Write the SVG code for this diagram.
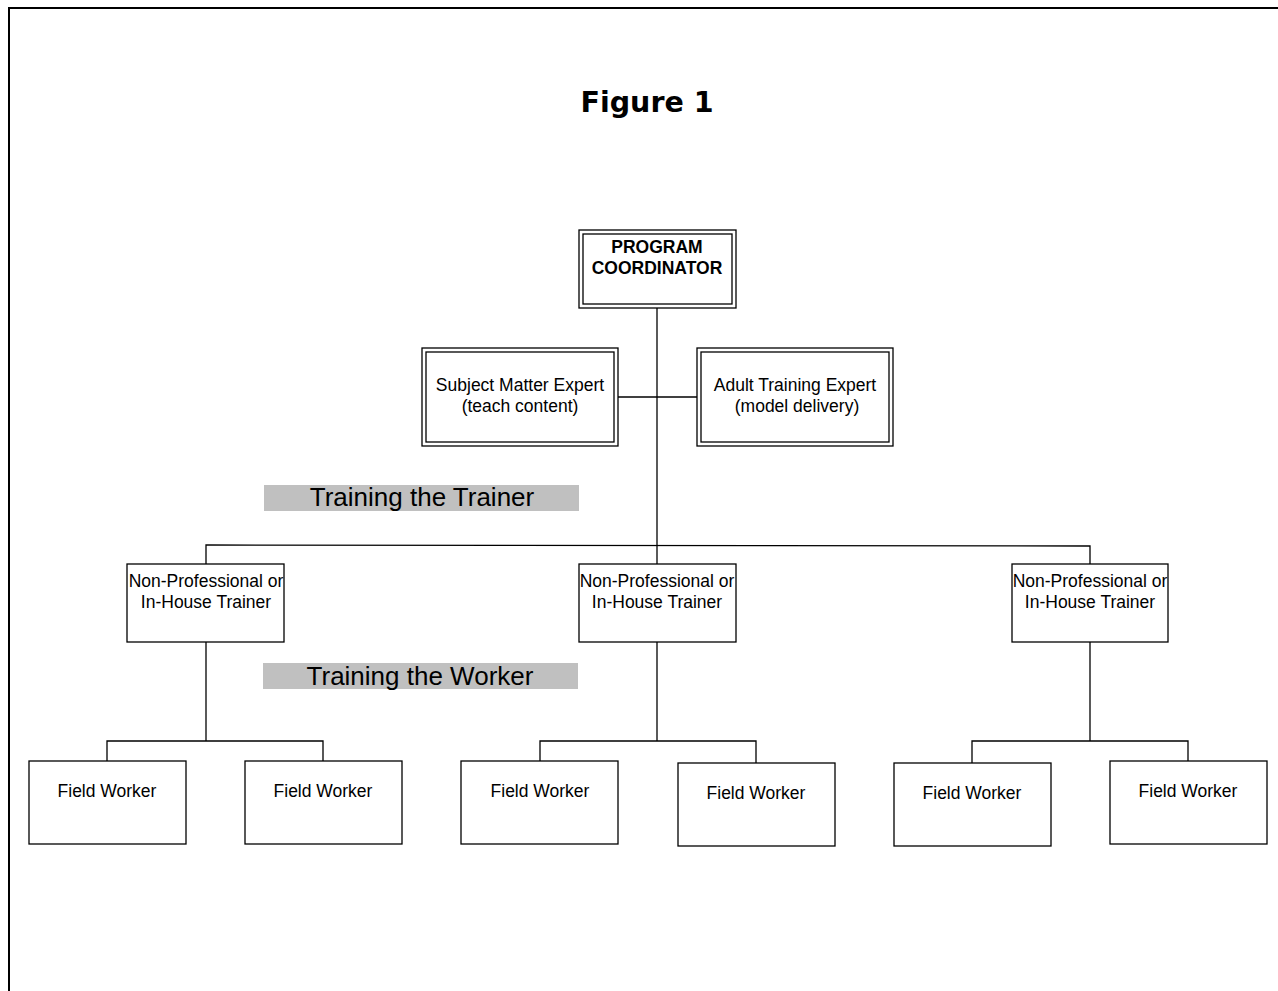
<svg xmlns="http://www.w3.org/2000/svg" width="1278" height="991" viewBox="0 0 1278 991">
<style>
.box{fill:#fff;stroke:#000;stroke-width:1.3}
.dbl{fill:none;stroke:#000;stroke-width:1.3}
.t{font-family:"Liberation Sans",Arial,sans-serif;font-size:17.5px;text-anchor:middle;fill:#000}
.b{font-weight:bold}
.band{fill:#c0c0c0}
.bt{font-family:"Liberation Sans",Arial,sans-serif;font-size:26px;text-anchor:middle;fill:#000}
.c{fill:none;stroke:#000;stroke-width:1.3}
</style>
<rect x="0" y="0" width="1278" height="991" fill="#fff"/>
<path d="M9 991 V8 H1290" fill="none" stroke="#000" stroke-width="2"/>
<text x="647" y="112" font-family="'DejaVu Sans',Verdana,sans-serif" font-weight="bold" font-size="28.5" text-anchor="middle">Figure 1</text>

<g id="connectors">
<path class="c" d="M657 308 V564"/>
<path class="c" d="M618 397 H697"/>
<path class="c" d="M206 564 V545 L1090 546 V564"/>
<path class="c" d="M206 642 V741"/>
<path class="c" d="M107 761 V741 H323 V761"/>
<path class="c" d="M657 642 V741"/>
<path class="c" d="M540 761 V741 H756 V763"/>
<path class="c" d="M1090 642 V741"/>
<path class="c" d="M972 763 V741 H1188 V761"/>
</g>

<g id="label-trainer">
<rect class="band" x="264" y="485" width="315" height="26"/>
<text class="bt" x="422" y="506">Training the Trainer</text>
</g>
<g id="label-worker">
<rect class="band" x="263" y="663" width="315" height="26"/>
<text class="bt" x="420" y="685">Training the Worker</text>
</g>

<g id="program-coordinator">
<rect class="box" x="579" y="230" width="157" height="78"/>
<rect class="dbl" x="583" y="234" width="149" height="70"/>
<text class="t b" x="657" y="253">PROGRAM</text>
<text class="t b" x="657" y="274">COORDINATOR</text>
</g>

<g id="subject-matter-expert">
<rect class="box" x="422" y="348" width="196" height="98"/>
<rect class="dbl" x="426" y="352" width="188" height="90"/>
<text class="t" x="520" y="391">Subject Matter Expert</text>
<text class="t" x="520" y="412">(teach content)</text>
</g>

<g id="adult-training-expert">
<rect class="box" x="697" y="348" width="196" height="98"/>
<rect class="dbl" x="701" y="352" width="188" height="90"/>
<text class="t" x="795" y="391">Adult Training Expert</text>
<text class="t" x="797" y="412">(model delivery)</text>
</g>

<g id="trainer-left">
<rect class="box" x="127" y="564" width="157" height="78"/>
<text class="t" x="206" y="587">Non-Professional or</text>
<text class="t" x="206" y="608">In-House Trainer</text>
</g>
<g id="trainer-middle">
<rect class="box" x="579" y="564" width="157" height="78"/>
<text class="t" x="657" y="587">Non-Professional or</text>
<text class="t" x="657" y="608">In-House Trainer</text>
</g>
<g id="trainer-right">
<rect class="box" x="1012" y="564" width="156" height="78"/>
<text class="t" x="1090" y="587">Non-Professional or</text>
<text class="t" x="1090" y="608">In-House Trainer</text>
</g>

<g id="worker-1">
<rect class="box" x="29" y="761" width="157" height="83"/>
<text class="t" x="107" y="797">Field Worker</text>
</g>
<g id="worker-2">
<rect class="box" x="245" y="761" width="157" height="83"/>
<text class="t" x="323" y="797">Field Worker</text>
</g>
<g id="worker-3">
<rect class="box" x="461" y="761" width="157" height="83"/>
<text class="t" x="540" y="797">Field Worker</text>
</g>
<g id="worker-4">
<rect class="box" x="678" y="763" width="157" height="83"/>
<text class="t" x="756" y="799">Field Worker</text>
</g>
<g id="worker-5">
<rect class="box" x="894" y="763" width="157" height="83"/>
<text class="t" x="972" y="799">Field Worker</text>
</g>
<g id="worker-6">
<rect class="box" x="1110" y="761" width="157" height="83"/>
<text class="t" x="1188" y="797">Field Worker</text>
</g>
</svg>
